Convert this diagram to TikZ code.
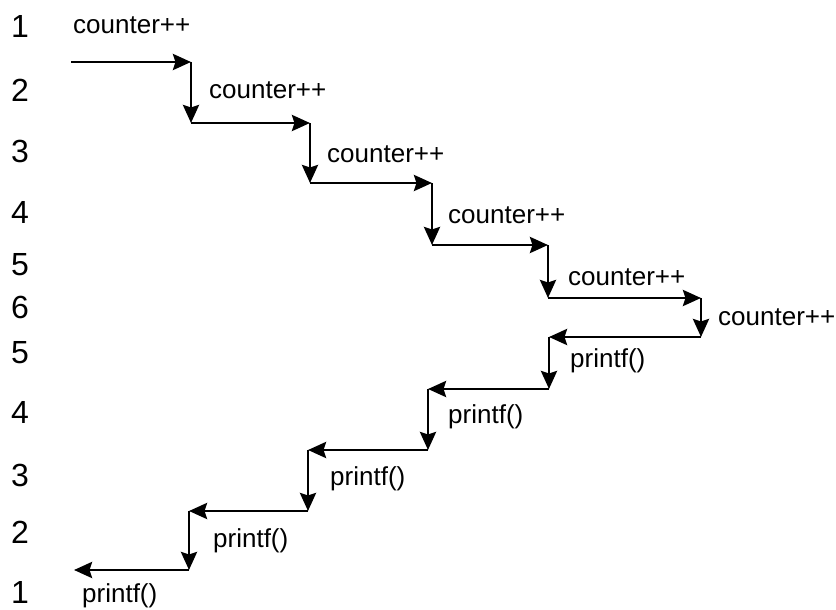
\documentclass[tikz,border=0pt]{standalone}
\usepackage{fontspec}
\setmainfont{Liberation Sans}
\usetikzlibrary{arrows.meta}
\begin{document}
\begin{tikzpicture}[x=1pt,y=-1pt,
  conn/.style={line width=2.9pt,-{Stealth[length=18pt,width=16pt,inset=2.5pt]}},
  lbl/.style={anchor=base west,inner sep=0pt,font=\fontsize{26}{30}\selectfont},
  num/.style={anchor=base,inner sep=0pt,font=\fontsize{32}{36}\selectfont}]
\useasboundingbox (0,0) rectangle (836,610);
% level numbers
\node[num] (n1)  at (20,38)  {1};
\node[num] (n2)  at (20,102) {2};
\node[num] (n3)  at (20,162) {3};
\node[num] (n4)  at (20,223) {4};
\node[num] (n5)  at (20,275) {5};
\node[num] (n6)  at (20,318) {6};
\node[num] (n5b) at (20,363) {5};
\node[num] (n4b) at (20,423) {4};
\node[num] (n3b) at (20,486) {3};
\node[num] (n2b) at (20,543) {2};
\node[num] (n1b) at (20,603) {1};
% descending corners
\coordinate (a0) at (71,62);
\coordinate (a1) at (191,62);
\coordinate (a2) at (191,123);
\coordinate (a3) at (310,123);
\coordinate (a4) at (310,183);
\coordinate (a5) at (432,183);
\coordinate (a6) at (432,245);
\coordinate (a7) at (548,245);
\coordinate (a8) at (548,298);
\coordinate (a9) at (701,298);
\coordinate (a10) at (701,337);
% ascending corners
\coordinate (b1) at (549,337);
\coordinate (b2) at (549,389);
\coordinate (b3) at (428,389);
\coordinate (b4) at (428,450);
\coordinate (b5) at (308,450);
\coordinate (b6) at (308,511);
\coordinate (b7) at (189,511);
\coordinate (b8) at (189,570);
\coordinate (b9) at (74,570);
% connectors
\draw[conn] (a0) -- (a1);
\draw[conn] (a1) -- (a2);
\draw[conn] (a2) -- (a3);
\draw[conn] (a3) -- (a4);
\draw[conn] (a4) -- (a5);
\draw[conn] (a5) -- (a6);
\draw[conn] (a6) -- (a7);
\draw[conn] (a7) -- (a8);
\draw[conn] (a8) -- (a9);
\draw[conn] (a9) -- (a10);
\draw[conn] (a10) -- (b1);
\draw[conn] (b1) -- (b2);
\draw[conn] (b2) -- (b3);
\draw[conn] (b3) -- (b4);
\draw[conn] (b4) -- (b5);
\draw[conn] (b5) -- (b6);
\draw[conn] (b6) -- (b7);
\draw[conn] (b7) -- (b8);
\draw[conn] (b8) -- (b9);
% labels
\node[lbl] (c1) at (73,34)  {counter++};
\node[lbl] (c2) at (209,99) {counter++};
\node[lbl] (c3) at (327,162) {counter++};
\node[lbl] (c4) at (448,223) {counter++};
\node[lbl] (c5) at (568,285) {counter++};
\node[lbl] (c6) at (718,325) {counter++};
\node[lbl] (p1) at (570,367) {printf()};
\node[lbl] (p2) at (448,423) {printf()};
\node[lbl] (p3) at (330,485) {printf()};
\node[lbl] (p4) at (213,547) {printf()};
\node[lbl] (p5) at (82,602) {printf()};
\end{tikzpicture}
\end{document}
